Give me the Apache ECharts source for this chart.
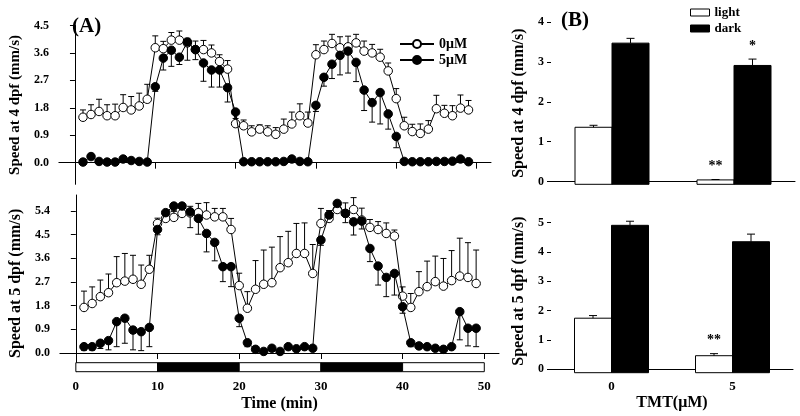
<!DOCTYPE html>
<html><head><meta charset="utf-8">
<script src="https://cdn.jsdelivr.net/npm/echarts@6/dist/echarts.min.js"></script>
<style>html,body{margin:0;padding:0;background:#fff}#c{width:800px;height:416px}</style>
</head><body><div id="c"></div>
<script>
// ---------- data ----------
const timeMin = [1,2,3,4,5,6,7,8,9,10,11,12,13,14,15,16,17,18,19,20,21,22,23,24,25,26,27,28,29,30,31,32,33,34,35,36,37,38,39,40,41,42,43,44,45,46,47,48,49];
const timeTicks = [0,10,20,30,40,50];
const yTicksA4 = [0,0.9,1.8,2.7,3.6,4.5];
const yTicksA5 = [0,0.9,1.8,2.7,3.6,4.5,5.4];
// 4 dpf, 0 uM (open) and 5 uM (filled)
const open4 = [1.49,1.58,1.68,1.54,1.54,1.81,1.73,1.86,2.08,3.77,3.74,4.02,4.02,3.93,3.71,3.71,3.60,3.32,3.07,1.28,1.21,1.01,1.10,1.01,0.93,1.10,1.27,1.54,1.30,3.54,3.71,3.91,3.77,3.80,3.93,3.66,3.60,3.46,3.01,2.10,1.21,1.02,0.96,1.10,1.77,1.62,1.54,1.79,1.73];
const open4Err = [0.24,0.32,0.40,0.36,0.38,0.42,0.44,0.42,0.49,0.39,0.24,0.25,0.30,0.15,0.28,0.30,0.26,0.22,0.28,0.17,0.19,0.20,0.14,0.20,0.22,0.33,0.39,0.39,0.36,0.33,0.28,0.30,0.36,0.35,0.28,0.33,0.28,0.26,0.26,0.33,0.28,0.24,0.31,0.28,0.44,0.26,0.33,0.43,0.31];
const fill4 = [0.02,0.20,0.04,0.02,0.02,0.12,0.07,0.04,0.02,2.49,3.43,3.69,3.46,3.96,3.71,3.27,3.04,3.04,2.46,1.66,0.03,0.03,0.03,0.03,0.03,0.04,0.12,0.04,0.03,1.88,2.80,3.23,3.52,3.66,3.29,2.38,1.97,2.30,1.60,0.86,0.04,0.03,0.03,0.03,0.04,0.04,0.05,0.12,0.03];
const fill4Err = [0.02,0.05,0.02,0.02,0.02,0.04,0.03,0.02,0.02,0.15,0.39,0.53,0.24,0.60,0.33,0.60,0.56,0.56,0.47,0.33,0.02,0.02,0.02,0.02,0.02,0.02,0.04,0.02,0.02,0.20,0.29,0.47,0.64,0.72,0.63,0.67,0.64,1.03,0.50,0.37,0.02,0.02,0.02,0.02,0.02,0.02,0.03,0.04,0.02];
// 5 dpf
const open5 = [1.73,1.88,2.14,2.29,2.67,2.73,2.80,2.61,3.18,4.92,5.11,5.15,5.30,5.32,5.33,5.24,5.17,5.17,4.69,2.56,1.70,2.42,2.61,2.67,3.24,3.43,3.78,3.78,3.02,4.92,5.11,5.45,5.30,5.45,5.05,4.77,4.69,4.54,4.44,2.16,1.73,2.33,2.52,2.71,2.54,2.75,2.92,2.87,2.64];
const open5Err = [0.62,0.63,0.63,0.71,0.99,1.05,0.91,0.73,0.53,0.20,0.25,0.25,0.20,0.25,0.35,0.47,0.32,0.32,0.42,0.47,0.63,1.09,1.30,1.35,1.18,1.19,1.14,1.16,1.10,0.57,0.30,0.25,0.40,0.45,0.45,0.30,0.30,0.40,0.23,0.35,0.53,0.76,0.97,0.97,1.05,1.14,1.44,1.32,1.27];
const fill5 = [0.24,0.24,0.37,0.47,1.19,1.32,0.87,0.81,0.97,4.69,5.33,5.58,5.58,5.36,5.11,4.54,4.20,3.28,3.28,1.32,0.39,0.14,0.06,0.18,0.06,0.24,0.16,0.24,0.18,4.29,5.24,5.68,5.30,4.98,5.01,3.97,3.30,2.87,3.02,1.76,0.39,0.27,0.24,0.18,0.14,0.24,1.57,0.94,0.94];
const fill5Err = [0.13,0.13,0.20,0.35,0.95,0.95,0.75,0.72,0.73,0.20,0.20,0.20,0.20,0.60,0.60,0.70,0.70,0.57,0.76,0.32,0.15,0.08,0.05,0.10,0.05,0.10,0.08,0.10,0.08,0.20,0.20,0.25,0.35,0.50,0.30,0.50,0.72,0.73,0.82,0.25,0.15,0.10,0.10,0.08,0.06,0.08,1.07,0.67,0.70];
// light / dark schedule (start, end, dark?)
const phases = [[0,10,0],[10,20,1],[20,30,0],[30,40,1],[40,50,0]];
// panel B
const doses = ['0','5'];
const barTicks4 = [0,1,2,3,4];
const barTicks5 = [0,1,2,3,4,5];
const light4 = [1.36,0.04], light4Err = [0.05,0.01];
const dark4 = [3.47,2.91], dark4Err = [0.12,0.16];
const light5 = [1.74,0.46], light5Err = [0.09,0.07];
const dark5 = [4.91,4.35], dark5Err = [0.14,0.26];
const sigLight4 = ['','**'], sigDark4 = ['','*'];
const sigLight5 = ['','**'], sigDark5 = ['',''];

// ---------- styling ----------
const FONT = 'Liberation Serif';
const BAR_W = 37;
const Y_MIN = {a4:-0.71, a5:-0.71, b4:-0.07, b5:-0.12};

function lineStyleAxis(){ return {lineStyle:{color:'#000',width:1}}; }

function errRender(dir){
  return function(params, api){
    const x = api.value(0), y = api.value(1), e = api.value(2);
    const p0 = api.coord([x,y]), p1 = api.coord([x,y+dir*e]);
    const cw = 3;
    return {type:'group', children:[
      {type:'line', shape:{x1:p0[0],y1:p0[1],x2:p1[0],y2:p1[1]}, style:{stroke:'#000',lineWidth:1}},
      {type:'line', shape:{x1:p1[0]-cw,y1:p1[1],x2:p1[0]+cw,y2:p1[1]}, style:{stroke:'#000',lineWidth:1}}
    ]};
  };
}
function tri(vals, errs){ return timeMin.map((t,i)=>[t, vals[i], errs[i]]); }

function barRender(side, yMin, fill, errs, sig){
  return function(params, api){
    const i = api.value(0), v = api.value(1);
    const top = api.coord([i, v]), base = api.coord([i, yMin]);
    const x0 = side < 0 ? top[0] - BAR_W : top[0];
    const cx = x0 + BAR_W/2;
    const e = errs[params.dataIndex];
    const et = api.coord([i, v + e]);
    const children = [
      {type:'rect', shape:{x:x0, y:top[1], width:BAR_W, height:base[1]-top[1]}, style:{fill:fill, stroke:'#000', lineWidth:1}},
      {type:'line', shape:{x1:cx,y1:top[1],x2:cx,y2:et[1]}, style:{stroke:'#000',lineWidth:1}},
      {type:'line', shape:{x1:cx-4,y1:et[1],x2:cx+4,y2:et[1]}, style:{stroke:'#000',lineWidth:1}}
    ];
    const s = sig[params.dataIndex];
    if (s) children.push({type:'text', x:cx, y:et[1]-6, style:{text:s, font:'bold 14px "Liberation Serif"', fill:'#000', align:'center', verticalAlign:'bottom'}});
    return {type:'group', children};
  };
}

const axisLabelBase = {color:'#000', fontFamily:FONT, fontWeight:'bold', fontSize:12};
const nameStyle = (sz)=>({color:'#000', fontFamily:FONT, fontWeight:'bold', fontSize:sz});

const option = {
  animation:false,
  backgroundColor:'#fff',
  textStyle:{fontFamily:FONT},
  grid:[
    {left:57, top:25.5, width:434, height:158.8},
    {left:57, top:195, width:442, height:176.7},
    {left:551, top:22, width:244, height:162.3},
    {left:551, top:209.5, width:242, height:163.2}
  ],
  xAxis:[
    {type:'value', gridIndex:0, min:-2, max:51.8, axisLine:lineStyleAxis(), splitLine:{show:false},
     axisTick:{customValues:timeTicks, length:6, lineStyle:{color:'#000'}}, axisLabel:{show:false, customValues:timeTicks}},
    {type:'value', gridIndex:1, min:-1.95, max:51.8, axisLine:lineStyleAxis(), splitLine:{show:false},
     axisTick:{customValues:timeTicks, length:6, lineStyle:{color:'#000'}},
     axisLabel:Object.assign({customValues:timeTicks, margin:8}, axisLabelBase, {fontSize:13}),
     name:'Time (min)', nameLocation:'middle', nameGap:24, nameTextStyle:nameStyle(16)},
    {type:'category', gridIndex:2, data:doses, axisLine:lineStyleAxis(), axisTick:{alignWithLabel:true, length:5, lineStyle:{color:'#000'}}, axisLabel:{show:false}},
    {type:'category', gridIndex:3, data:doses, axisLine:lineStyleAxis(), axisTick:{alignWithLabel:true, length:5, lineStyle:{color:'#000'}},
     axisLabel:Object.assign({margin:7}, axisLabelBase, {fontSize:13}),
     name:'TMT(μM)', nameLocation:'middle', nameGap:22, nameTextStyle:nameStyle(16)}
  ],
  yAxis:[
    {type:'value', gridIndex:0, min:Y_MIN.a4, max:4.5, axisLine:lineStyleAxis(), splitLine:{show:false},
     axisTick:{show:true, customValues:yTicksA4, length:5, lineStyle:{color:'#000'}},
     axisLabel:Object.assign({customValues:yTicksA4, margin:10, formatter:(v)=>v.toFixed(1)}, axisLabelBase),
     name:'Speed at 4 dpf (mm/s)', nameLocation:'middle', nameGap:33, nameTextStyle:nameStyle(15)},
    {type:'value', gridIndex:1, min:Y_MIN.a5, max:6.0, axisLine:lineStyleAxis(), splitLine:{show:false},
     axisTick:{show:true, customValues:yTicksA5, length:5, lineStyle:{color:'#000'}},
     axisLabel:Object.assign({customValues:yTicksA5, margin:10, formatter:(v)=>v.toFixed(1)}, axisLabelBase),
     name:'Speed at 5 dpf (mm/s)', nameLocation:'middle', nameGap:33, nameTextStyle:nameStyle(16)},
    {type:'value', gridIndex:2, min:Y_MIN.b4, max:4, axisLine:lineStyleAxis(), splitLine:{show:false},
     axisTick:{show:true, customValues:barTicks4, length:4, lineStyle:{color:'#000'}},
     axisLabel:Object.assign({customValues:barTicks4, margin:7}, axisLabelBase),
     name:'Speed at 4 dpf (mm/s)', nameLocation:'middle', nameGap:24, nameTextStyle:nameStyle(16)},
    {type:'value', gridIndex:3, min:Y_MIN.b5, max:5.45, axisLine:lineStyleAxis(), splitLine:{show:false},
     axisTick:{show:true, customValues:barTicks5, length:4, lineStyle:{color:'#000'}},
     axisLabel:Object.assign({customValues:barTicks5, margin:7}, axisLabelBase),
     name:'Speed at 5 dpf (mm/s)', nameLocation:'middle', nameGap:24, nameTextStyle:nameStyle(16)}
  ],
  legend:[
    {data:['0μM','5μM'], left:394, top:32, orient:'vertical', itemWidth:34, itemHeight:10, itemGap:2,
     textStyle:{color:'#000', fontFamily:FONT, fontWeight:'bold', fontSize:14}, selectedMode:false},
    {data:[{name:'light', icon:'rect', itemStyle:{color:'#fff', borderColor:'#000', borderWidth:1}},
           {name:'dark', icon:'rect', itemStyle:{color:'#000', borderColor:'#000', borderWidth:1}}],
     left:685, top:1, orient:'vertical', itemWidth:19, itemHeight:7, itemGap:3,
     textStyle:{color:'#000', fontFamily:FONT, fontWeight:'bold', fontSize:13}, selectedMode:false}
  ],
  graphic:[
    {type:'text', left:72, top:16, style:{text:'(A)', font:'bold 21px "Liberation Serif"', fill:'#000'}},
    {type:'text', left:561, top:10, style:{text:'(B)', font:'bold 21px "Liberation Serif"', fill:'#000'}}
  ],
  series:[
    // light/dark bar
    {type:'custom', xAxisIndex:1, yAxisIndex:1, data:phases, encode:{x:[0,1]}, z:5, silent:true,
     renderItem:function(params, api){
       const a = api.coord([api.value(0), Y_MIN.a5]), b = api.coord([api.value(1), Y_MIN.a5]);
       return {type:'rect', shape:{x:a[0], y:a[1]-9, width:b[0]-a[0], height:9},
               style:{fill: api.value(2) ? '#000' : '#fff', stroke:'#000', lineWidth:1}};
     }},
    // error bars A
    {type:'custom', xAxisIndex:0, yAxisIndex:0, data:tri(open4, open4Err), renderItem:errRender(1), z:1, silent:true},
    {type:'custom', xAxisIndex:0, yAxisIndex:0, data:tri(fill4, fill4Err), renderItem:errRender(-1), z:1, silent:true},
    {type:'custom', xAxisIndex:1, yAxisIndex:1, data:tri(open5, open5Err), renderItem:errRender(1), z:1, silent:true},
    {type:'custom', xAxisIndex:1, yAxisIndex:1, data:tri(fill5, fill5Err), renderItem:errRender(-1), z:1, silent:true},
    // lines A
    {type:'line', name:'0μM', xAxisIndex:0, yAxisIndex:0, data:timeMin.map((t,i)=>[t,open4[i]]), symbol:'circle', symbolSize:8.5,
     lineStyle:{color:'#000',width:1}, itemStyle:{color:'#fff', borderColor:'#000', borderWidth:1}, z:3},
    {type:'line', name:'5μM', xAxisIndex:0, yAxisIndex:0, data:timeMin.map((t,i)=>[t,fill4[i]]), symbol:'circle', symbolSize:8.5,
     lineStyle:{color:'#000',width:1}, itemStyle:{color:'#000', borderColor:'#000', borderWidth:1}, z:4},
    {type:'line', name:'0μM', xAxisIndex:1, yAxisIndex:1, data:timeMin.map((t,i)=>[t,open5[i]]), symbol:'circle', symbolSize:8.5,
     lineStyle:{color:'#000',width:1}, itemStyle:{color:'#fff', borderColor:'#000', borderWidth:1}, z:3},
    {type:'line', name:'5μM', xAxisIndex:1, yAxisIndex:1, data:timeMin.map((t,i)=>[t,fill5[i]]), symbol:'circle', symbolSize:8.5,
     lineStyle:{color:'#000',width:1}, itemStyle:{color:'#000', borderColor:'#000', borderWidth:1}, z:4},
    // bars B
    {type:'custom', name:'light', xAxisIndex:2, yAxisIndex:2, data:doses.map((d,i)=>[i, light4[i]]),
     itemStyle:{color:'#fff', borderColor:'#000'}, renderItem:barRender(-1, Y_MIN.b4, '#fff', light4Err, sigLight4)},
    {type:'custom', name:'dark', xAxisIndex:2, yAxisIndex:2, data:doses.map((d,i)=>[i, dark4[i]]),
     itemStyle:{color:'#000'}, renderItem:barRender(1, Y_MIN.b4, '#000', dark4Err, sigDark4)},
    {type:'custom', name:'light', xAxisIndex:3, yAxisIndex:3, data:doses.map((d,i)=>[i, light5[i]]),
     itemStyle:{color:'#fff', borderColor:'#000'}, renderItem:barRender(-1, Y_MIN.b5, '#fff', light5Err, sigLight5)},
    {type:'custom', name:'dark', xAxisIndex:3, yAxisIndex:3, data:doses.map((d,i)=>[i, dark5[i]]),
     itemStyle:{color:'#000'}, renderItem:barRender(1, Y_MIN.b5, '#000', dark5Err, sigDark5)}
  ]
};
const chart = echarts.init(document.getElementById('c'), null, {renderer:'canvas'});
chart.setOption(option);
</script></body></html>
